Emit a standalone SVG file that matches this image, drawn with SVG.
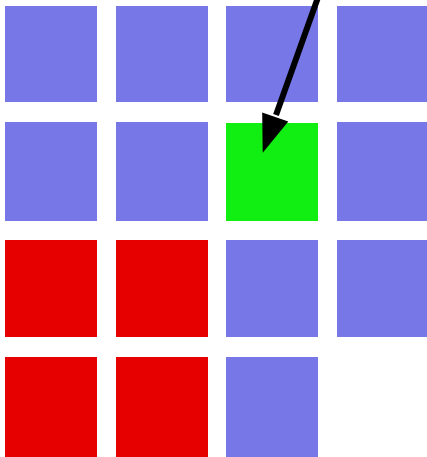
<svg xmlns="http://www.w3.org/2000/svg" width="427" height="457" viewBox="0 0 427 457">
<style>
.b{fill:#7777e8}
.r{fill:#e60000}
.g{fill:#11ee11}
</style>
<rect width="427" height="457" fill="#fff"/>
<g id="c00"><rect class="b" x="5" y="6" width="92" height="96"/></g>
<g id="c01"><rect class="b" x="116" y="6" width="92" height="96"/></g>
<g id="c02"><rect class="b" x="226" y="6" width="92" height="96"/></g>
<g id="c03"><rect class="b" x="337" y="6" width="90" height="96"/></g>
<g id="c10"><rect class="b" x="5" y="122" width="92" height="99"/></g>
<g id="c11"><rect class="b" x="116" y="122" width="92" height="99"/></g>
<g id="c12"><rect class="g" x="226" y="123" width="92" height="98"/></g>
<g id="c13"><rect class="b" x="337" y="122" width="90" height="99"/></g>
<g id="c20"><rect class="r" x="5" y="240" width="92" height="97"/></g>
<g id="c21"><rect class="r" x="116" y="240" width="92" height="97"/></g>
<g id="c22"><rect class="b" x="226" y="240" width="92" height="97"/></g>
<g id="c23"><rect class="b" x="337" y="240" width="90" height="97"/></g>
<g id="c30"><rect class="r" x="5" y="357" width="92" height="100"/></g>
<g id="c31"><rect class="r" x="116" y="357" width="92" height="100"/></g>
<g id="c32"><rect class="b" x="226" y="357" width="92" height="100"/></g>
<g id="connectors">
<line x1="318.5" y1="-4" x2="276" y2="115" stroke="#000" stroke-width="6"/>
<polygon points="262.7,152.7 262.2,112.4 288.3,121.4" fill="#000"/>
</g>
</svg>
